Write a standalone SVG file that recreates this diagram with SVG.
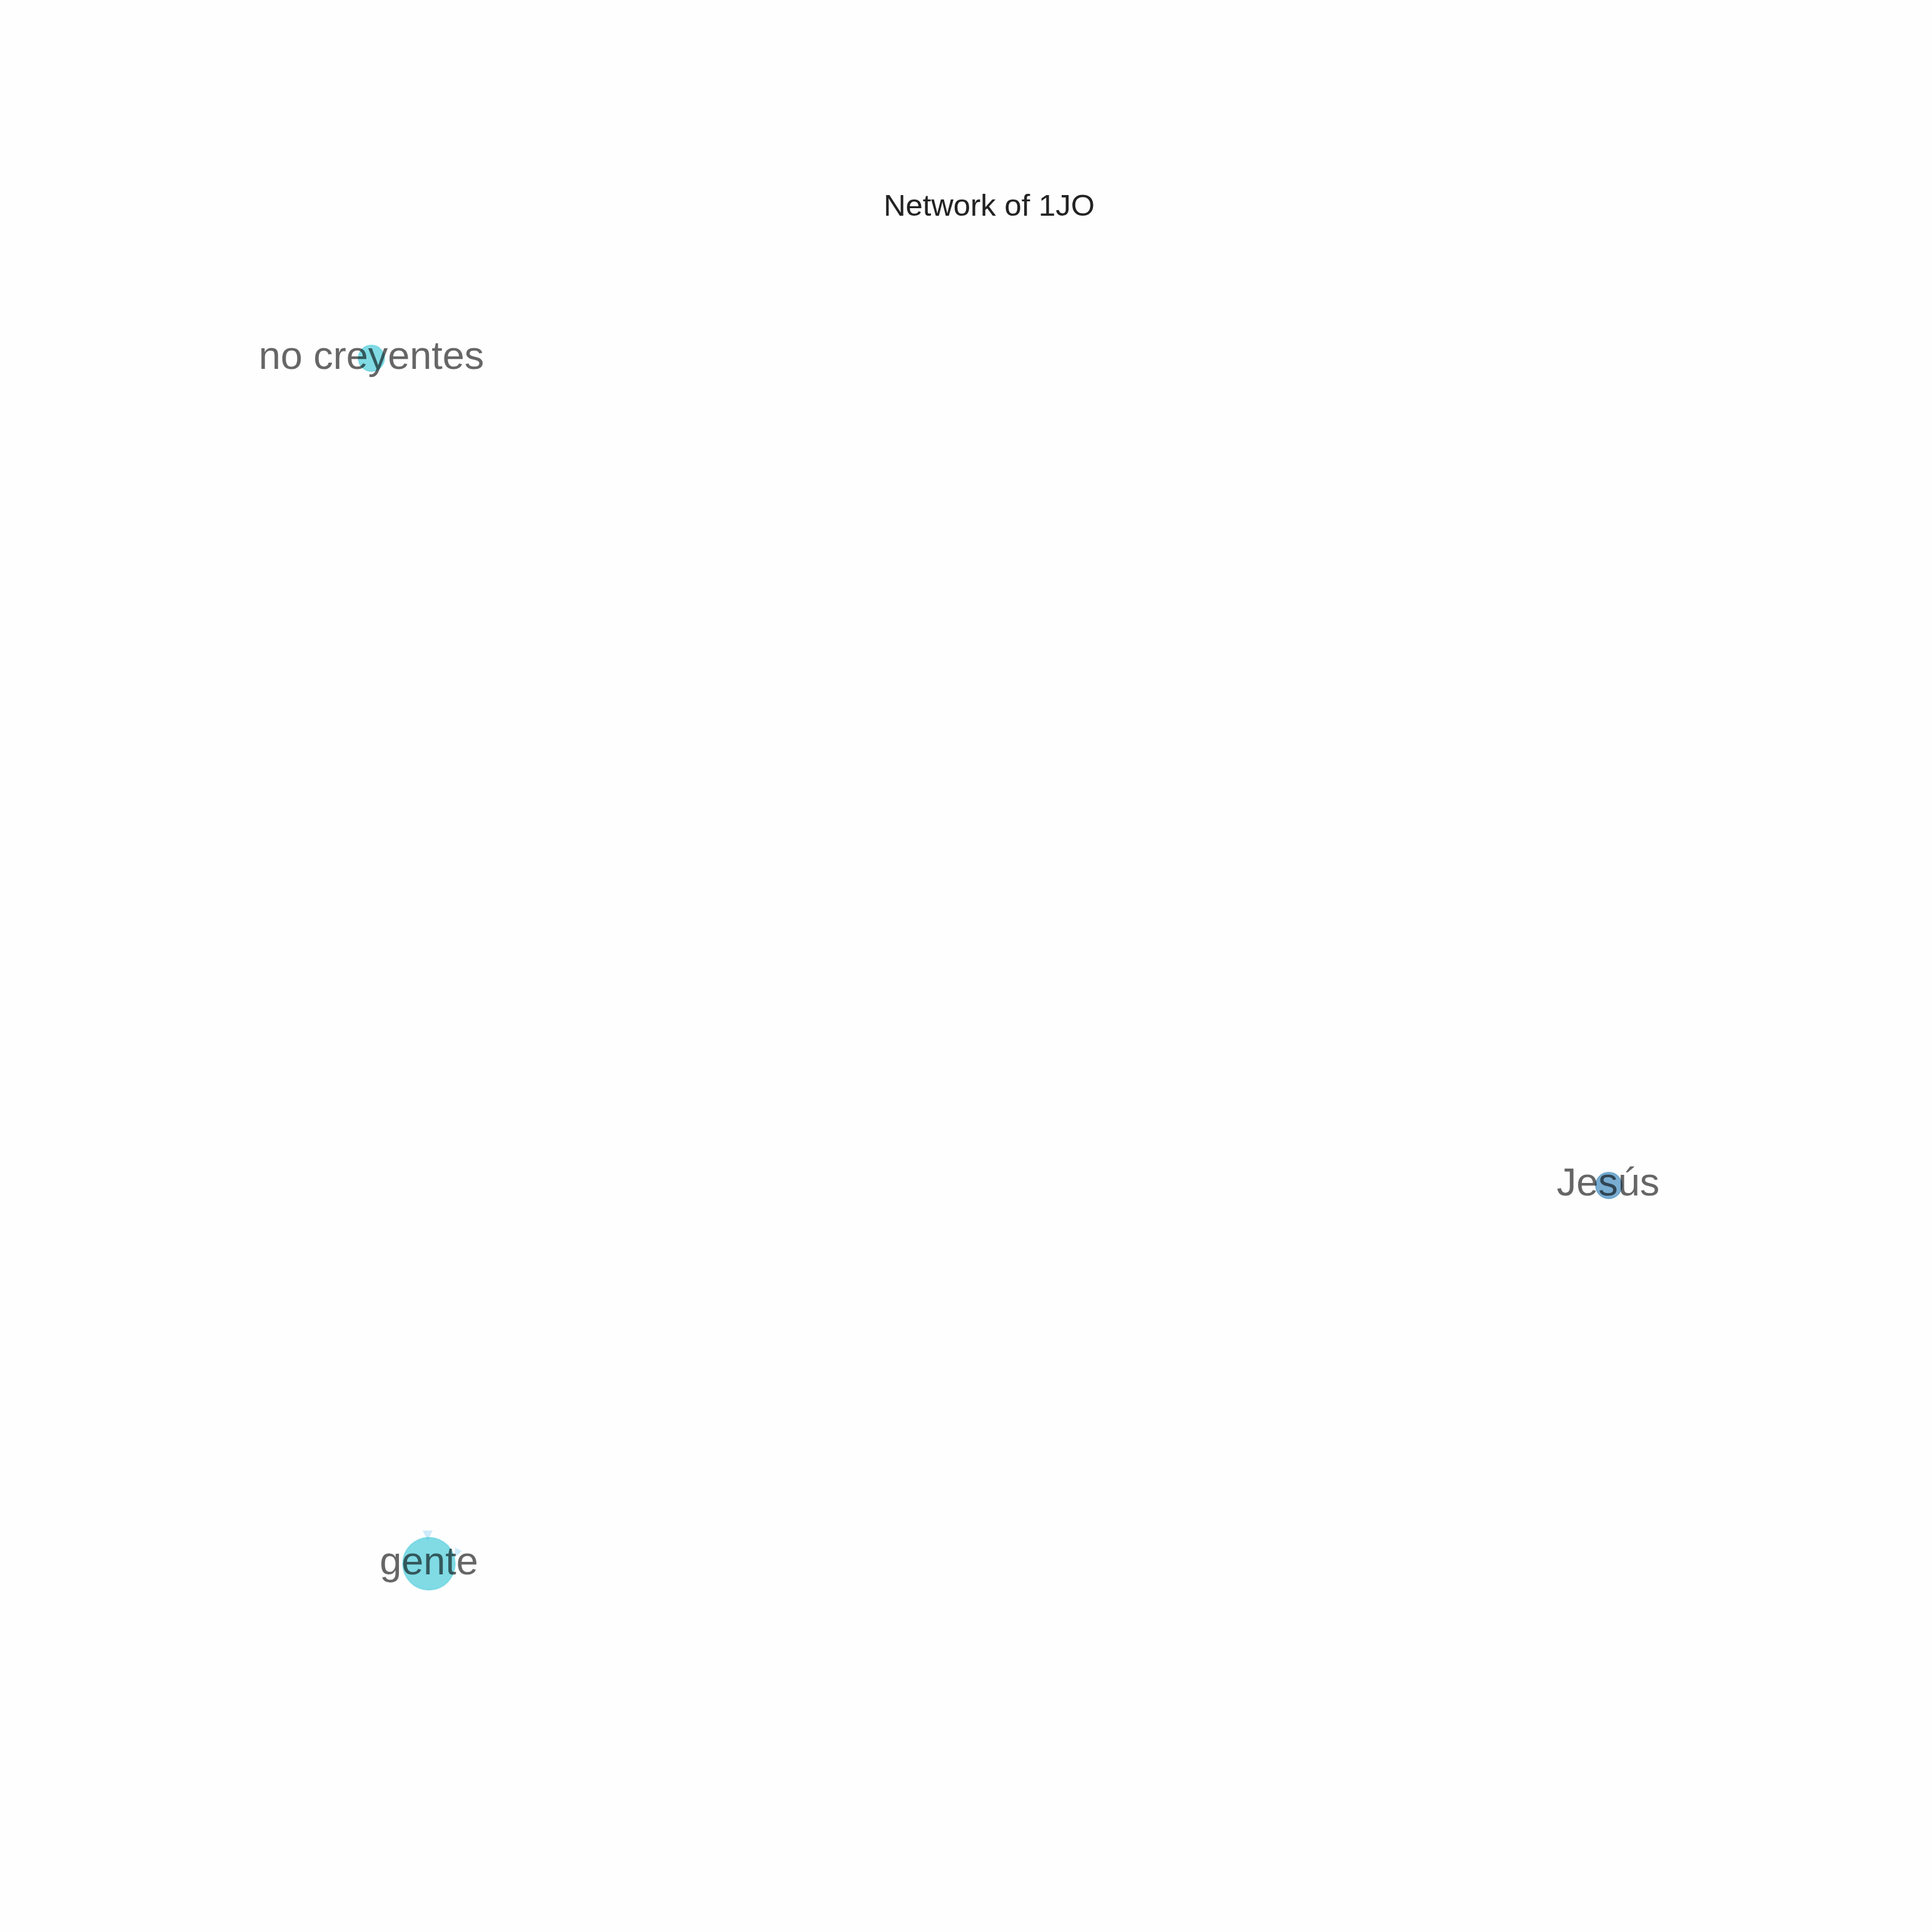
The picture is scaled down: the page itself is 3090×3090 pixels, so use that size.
<svg xmlns="http://www.w3.org/2000/svg" width="3090" height="3090" viewBox="0 0 3090 3090">
<style>
.title{font-family:"Liberation Sans",Arial,sans-serif;font-size:49px;fill:#222;text-anchor:middle}
.lbl{font-family:"Liberation Sans",Arial,sans-serif;font-size:63px;fill:#000;fill-opacity:0.6;text-anchor:middle}
.cyan{fill:#17becf;fill-opacity:0.55;stroke:#17becf;stroke-opacity:0.3;stroke-width:2}
.blue{fill:#1f77b4;fill-opacity:0.6;stroke:#1f77b4;stroke-opacity:0.4;stroke-width:2}
.arrow{fill:#a6d8f7;fill-opacity:0.55}
</style>
<rect width="3090" height="3090" fill="#fefefe"/>
<text class="title" x="1582" y="345">Network of 1JO</text>
<g id="connectors">
<polygon class="arrow" points="684,2464 676,2448 692,2448"/>
<polygon class="arrow" points="727,2491 728,2475 739,2481"/>
</g>
<g id="node-no-creyentes">
<circle class="cyan" cx="594" cy="573" r="21"/>
<text class="lbl" x="594" y="590">no creyentes</text>
</g>
<g id="node-jesus">
<circle class="blue" cx="2573" cy="1896" r="21"/>
<text class="lbl" x="2572" y="1912">Jesús</text>
</g>
<g id="node-gente">
<circle class="cyan" cx="686" cy="2501" r="42"/>
<text class="lbl" x="686" y="2518">gente</text>
</g>
</svg>
